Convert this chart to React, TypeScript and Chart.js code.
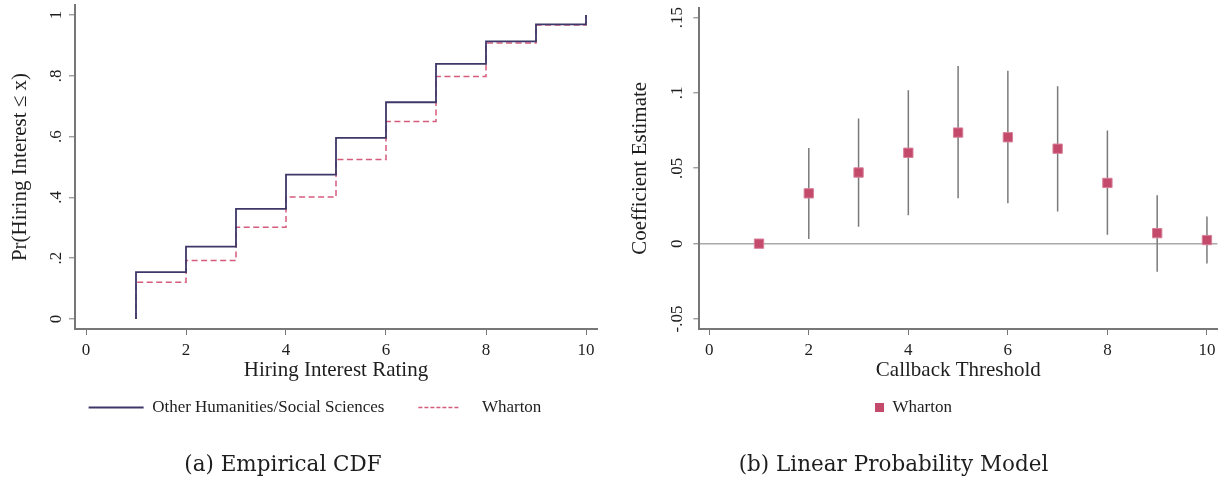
import React, { useEffect, useRef } from "react";
import { Chart, registerables } from "chart.js";

Chart.register(...registerables);

// ---------- Data: (a) Empirical CDF ----------
const ratings = [1, 2, 3, 4, 5, 6, 7, 8, 9, 10];
const cdfStart = 0;
const cdfOther = [0.154, 0.238, 0.362, 0.475, 0.596, 0.713, 0.839, 0.913, 0.969, 1.0];
const cdfWharton = [0.121, 0.192, 0.302, 0.401, 0.525, 0.65, 0.798, 0.908, 0.967, 1.0];

// ---------- Data: (b) Linear Probability Model ----------
const thresholds = [1, 2, 3, 4, 5, 6, 7, 8, 9, 10];
const coef = [0, 0.0334, 0.0472, 0.0603, 0.0737, 0.0706, 0.063, 0.0403, 0.007, 0.0024];
const ciLow: (number | null)[] = [null, 0.0031, 0.0112, 0.0189, 0.0301, 0.0268, 0.0213, 0.0059, -0.0186, -0.0132];
const ciHigh: (number | null)[] = [null, 0.0634, 0.0831, 0.1018, 0.1178, 0.1147, 0.1044, 0.075, 0.0322, 0.018];

// ---------- Ticks ----------
const xTicks = [0, 2, 4, 6, 8, 10];
const xTickLabels = ["0", "2", "4", "6", "8", "10"];
const cdfYTicks = [0, 0.2, 0.4, 0.6, 0.8, 1];
const cdfYTickLabels = ["0", ".2", ".4", ".6", ".8", "1"];
const lpmYTicks = [-0.05, 0, 0.05, 0.1, 0.15];
const lpmYTickLabels = ["-.05", "0", ".05", ".1", ".15"];

// ---------- Captions ----------
const captionA = "(a) Empirical CDF";
const captionB = "(b) Linear Probability Model";

// ---------- Style ----------
const TEXT = "#1e1e1e";
const AXIS = "#777777";
const SERIF = "'Liberation Serif', 'Times New Roman', serif";
const CAPTION_FONT = "'DejaVu Serif', serif";
const NAVY = "#3d3868";
const PINK = "#d65c7d";
const MARKER = "#c44a6b";
const H = 489;

function xScale(min: number, max: number, title: string) {
  return {
    type: "linear",
    position: "bottom",
    min,
    max,
    afterBuildTicks: (s: any) => {
      s.ticks = xTicks.map((v) => ({ value: v }));
    },
    afterFit: (s: any) => {
      s.height = 36;
      s.paddingLeft = 0;
      s.paddingRight = 0;
    },
    ticks: {
      callback: (_v: any, i: number) => xTickLabels[i],
      font: { family: SERIF, size: 17 },
      color: TEXT,
      padding: 5,
      autoSkip: false,
      minRotation: 0,
      maxRotation: 0,
    },
    grid: {
      display: true,
      drawOnChartArea: false,
      drawTicks: true,
      tickLength: 6,
      color: AXIS,
      lineWidth: 1,
    },
    border: { display: true, color: AXIS, width: 2 },
    title: {
      display: true,
      text: title,
      font: { family: SERIF, size: 21 },
      color: TEXT,
      padding: { top: 0, bottom: -18 },
    },
  };
}

function yScale(
  min: number,
  max: number,
  ticks: number[],
  labels: string[],
  title: string,
  width: number,
  tickPad: number,
  titlePad: number,
  zeroLine: boolean
) {
  return {
    type: "linear",
    position: "left",
    min,
    max,
    afterBuildTicks: (s: any) => {
      s.ticks = ticks.map((v) => ({ value: v }));
    },
    afterFit: (s: any) => {
      s.width = width;
      s.paddingTop = 0;
      s.paddingBottom = 0;
    },
    ticks: {
      callback: (_v: any, i: number) => labels[i],
      font: { family: SERIF, size: 17 },
      color: TEXT,
      padding: tickPad,
      autoSkip: false,
      minRotation: 90,
      maxRotation: 90,
      crossAlign: "center",
    },
    grid: {
      display: true,
      drawOnChartArea: zeroLine,
      drawTicks: true,
      tickLength: 6,
      color: (c: any) =>
        zeroLine && c.tick && Math.abs(c.tick.value) < 1e-9 ? "#a9a9a9" : zeroLine ? "rgba(0,0,0,0)" : AXIS,
      lineWidth: 1.6,
      tickColor: AXIS,
      tickWidth: 1,
    },
    border: { display: true, color: AXIS, width: 2 },
    title: {
      display: true,
      text: title,
      font: { family: SERIF, size: 21 },
      color: TEXT,
      padding: { top: titlePad, bottom: 0 },
    },
  };
}

function buildCdf(): any {
  return {
    type: "line",
    data: {
      datasets: [
        {
          label: "Other Humanities/Social Sciences",
          data: [{ x: ratings[0], y: cdfStart }, ...ratings.map((r, i) => ({ x: r, y: cdfOther[i] }))],
          stepped: "before",
          borderColor: NAVY,
          borderWidth: 1.8,
          pointRadius: 0,
          fill: false,
        },
        {
          label: "Wharton",
          data: [{ x: ratings[0], y: cdfStart }, ...ratings.map((r, i) => ({ x: r, y: cdfWharton[i] }))],
          stepped: "before",
          borderColor: PINK,
          borderWidth: 1.5,
          borderDash: [6, 3.5],
          pointRadius: 0,
          fill: false,
        },
      ],
    },
    options: {
      animation: false,
      responsive: true,
      maintainAspectRatio: false,
      events: [],
      layout: { padding: { left: 33, right: 3, top: 5, bottom: 63 } },
      scales: {
        x: xScale(-0.22, 10.22, "Hiring Interest Rating"),
        y: yScale(-0.033, 1.033, cdfYTicks, cdfYTickLabels, "Pr(Hiring Interest \u2264 x)", 42, 6.5, -25.6, false),
      },
      plugins: {
        tooltip: { enabled: false },
        title: { display: false },
        legend: {
          display: true,
          position: "bottom",
          labels: {
            font: { family: SERIF, size: 17 },
            color: TEXT,
            padding: 34,
            usePointStyle: true,
            pointStyleWidth: 55,
            generateLabels: (chart: any) =>
              chart.data.datasets.map((d: any, i: number) => ({
                text: d.label,
                datasetIndex: i,
                pointStyle: "line",
                strokeStyle: d.borderColor,
                fillStyle: d.borderColor,
                lineWidth: i === 0 ? 1.8 : 1.4,
                lineDash: i === 0 ? [] : [4, 2, 4, 2, 4, 2, 4, 2, 4, 2, 4, 2, 4, 20],
                fontColor: TEXT,
                hidden: false,
              })),
          },
        },
      },
    },
  };
}

function buildLpm(): any {
  const bars: any[] = [];
  thresholds.forEach((t, i) => {
    if (ciLow[i] == null || ciHigh[i] == null) return;
    bars.push({ x: t, y: ciLow[i] }, { x: t, y: ciHigh[i] }, { x: t, y: null });
  });
  return {
    type: "line",
    data: {
      datasets: [
        {
          label: "Wharton",
          data: thresholds.map((t, i) => ({ x: t, y: coef[i] })),
          showLine: false,
          pointStyle: "rect",
          pointRadius: 6.6,
          backgroundColor: MARKER,
          borderColor: "#d8809a",
          borderWidth: 1,
        },
        {
          label: "95% CI",
          data: bars,
          spanGaps: false,
          borderColor: "#7a7a7a",
          borderWidth: 1.5,
          pointRadius: 0,
          fill: false,
        },
      ],
    },
    options: {
      animation: false,
      responsive: true,
      maintainAspectRatio: false,
      events: [],
      layout: { padding: { left: 17, right: 5, top: 5, bottom: 63 } },
      scales: {
        x: xScale(-0.2, 10.21, "Callback Threshold"),
        y: yScale(-0.0566, 0.1566, lpmYTicks, lpmYTickLabels, "Coefficient Estimate", 92.3, 2.5, 20.5, true),
      },
      plugins: {
        tooltip: { enabled: false },
        title: { display: false },
        legend: {
          display: true,
          position: "bottom",
          labels: {
            font: { family: SERIF, size: 17 },
            color: TEXT,
            padding: 34,
            usePointStyle: true,
            boxWidth: 9,
            boxHeight: 9,
            generateLabels: (chart: any) => [
              {
                text: chart.data.datasets[0].label,
                datasetIndex: 0,
                pointStyle: "rect",
                fillStyle: MARKER,
                strokeStyle: MARKER,
                lineWidth: 0,
                fontColor: TEXT,
                hidden: false,
              },
            ],
          },
        },
      },
    },
  };
}

function ChartBox({ left, width, build }: { left: number; width: number; build: () => any }) {
  const ref = useRef<HTMLCanvasElement>(null);
  useEffect(() => {
    if (!ref.current) return;
    const chart = new Chart(ref.current, build());
    return () => chart.destroy();
  }, []);
  return (
    <div style={{ position: "absolute", left, top: 0, width, height: H }}>
      <canvas ref={ref} />
    </div>
  );
}

function Caption({ center, text }: { center: number; text: string }) {
  return (
    <div
      style={{
        position: "absolute",
        left: center - 250,
        width: 500,
        top: 450,
        height: 28,
        lineHeight: "28px",
        textAlign: "center",
        fontFamily: CAPTION_FONT,
        fontSize: 21.5,
        color: TEXT,
        whiteSpace: "nowrap",
      }}
    >
      {text}
    </div>
  );
}

export default function App() {
  return (
    <div
      style={{
        position: "absolute",
        left: 0,
        top: 0,
        width: 1225,
        height: H,
        background: "#ffffff",
        overflow: "hidden",
      }}
    >
      <ChartBox left={0} width={600} build={buildCdf} />
      <ChartBox left={590} width={635} build={buildLpm} />
      <Caption center={283} text={captionA} />
      <Caption center={893.5} text={captionB} />
    </div>
  );
}
